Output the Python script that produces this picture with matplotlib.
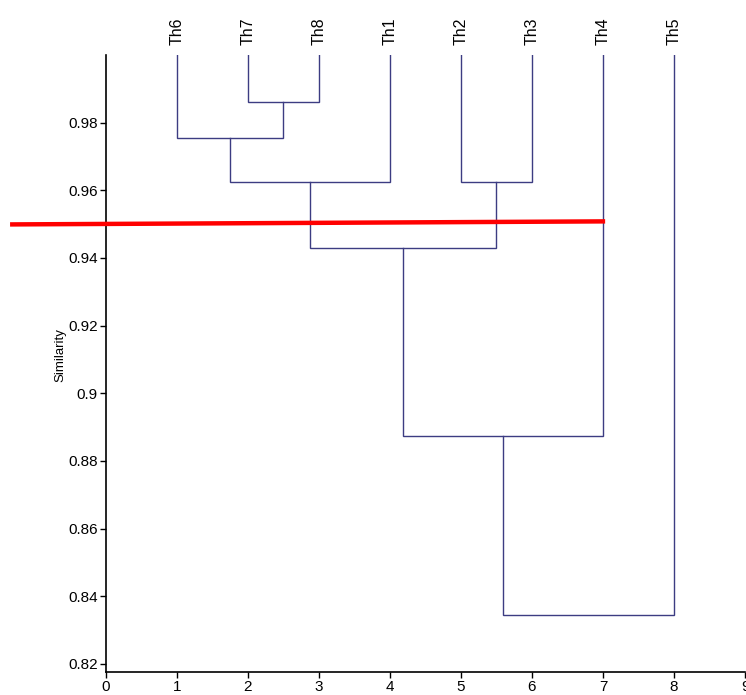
import matplotlib
matplotlib.use("Agg")
import matplotlib.pyplot as plt

# leaf labels in dendrogram order (x = 1..8)
leaves = ["Th6", "Th7", "Th8", "Th1", "Th2", "Th3", "Th4", "Th5"]
leaf_height = 1.0

# merges: (cluster a, cluster b, similarity); new clusters get ids 8, 9, ...
merge_a = [1, 0, 9, 4, 10, 12, 13]
merge_b = [2, 8, 3, 5, 11, 6, 7]
merge_sim = [0.986, 0.9755, 0.9625, 0.9625, 0.943, 0.8875, 0.8345]

cut_level = [0.9499, 0.9508]  # hand-drawn red cut line (slightly tilted)
cut_x = [-1.35, 7.03]

yticks = [0.82, 0.84, 0.86, 0.88, 0.90, 0.92, 0.94, 0.96, 0.98]
ytick_labels = ["0.82", "0.84", "0.86", "0.88", "0.9", "0.92", "0.94", "0.96", "0.98"]
xticks = list(range(10))

plt.rcParams["font.family"] = ["Liberation Sans", "DejaVu Sans"]

fig = plt.figure(figsize=(7.46, 6.95), dpi=100)
ax = fig.add_axes([0.142, 0.033, 0.8567, 0.888])

line_color = "#3c3c82"

# positions / heights of every cluster
xpos = {i: i + 1 for i in range(len(leaves))}
ypos = {i: leaf_height for i in range(len(leaves))}
for k, (a, b, s) in enumerate(zip(merge_a, merge_b, merge_sim)):
    node = len(leaves) + k
    ax.plot([xpos[a], xpos[a], xpos[b], xpos[b]],
            [ypos[a], s, s, ypos[b]], color=line_color, lw=1.0,
            solid_joinstyle="miter")
    xpos[node] = (xpos[a] + xpos[b]) / 2
    ypos[node] = s

for i, name in enumerate(leaves):
    ax.text(i + 1, leaf_height + 0.0028, name, rotation=90, ha="center",
            va="bottom", fontsize=11.5, clip_on=False)

# red cut line
ax.plot(cut_x, cut_level, color="#ff0000", lw=3.2, clip_on=False,
        solid_capstyle="butt", zorder=5)

ax.set_xlim(0, 9)
ax.set_ylim(0.8176, 1.0)
ax.set_xticks(xticks)
ax.set_yticks(yticks)
ax.set_yticklabels(ytick_labels)
ax.tick_params(direction="out", length=4, width=1, labelsize=11, pad=2)
for side in ["top", "right"]:
    ax.spines[side].set_visible(False)
for side in ["left", "bottom"]:
    ax.spines[side].set_linewidth(1.2)

fig.text(60 / 746, 1 - 355 / 695, "Similarity", rotation=90,
         ha="center", va="center", fontsize=9.5)

fig.savefig("out.png", dpi=100)
